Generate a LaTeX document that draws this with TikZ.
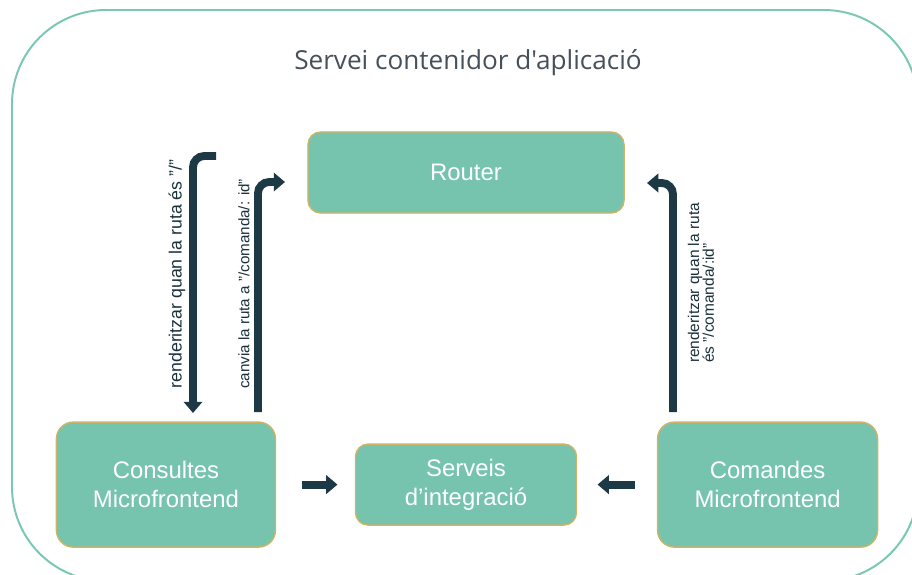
\documentclass[tikz,border=0pt]{standalone}
\usepackage{fontspec}
\setmainfont{Liberation Sans}
\newfontfamily\titlefont{Open Sans}
\usepackage{tikz}
\usetikzlibrary{arrows.meta, positioning}
\definecolor{boxcolor}{RGB}{118, 196, 174}
\definecolor{bordercolor}{RGB}{204, 180, 104}
\definecolor{framecolor}{RGB}{122, 200, 180}
\definecolor{arrowcolor}{RGB}{30, 57, 70}
\definecolor{titlecolor}{RGB}{70, 80, 90}
\tikzstyle{service} = [draw=bordercolor, rectangle, rounded corners=9pt, fill=boxcolor, text=white, align=center, font=\fontsize{17}{20.6}\selectfont, line width=1pt, inner sep=0pt, outer sep=0pt]
\tikzstyle{arrow} = [line width=5.6pt, color=arrowcolor, -{Triangle[length=8pt, width=13pt]}]
\tikzstyle{routelabel} = [rotate=90, align=left, inner sep=0pt, text=arrowcolor!85!black]

\begin{document}
\begin{tikzpicture}[x=0.025cm, y=-0.025cm]
\useasboundingbox (0,0) rectangle (912,574);
\clip (0,0) rectangle (912,574);

% Frame
\draw [framecolor, line width=1.4pt, rounded corners=2.35cm] (12,10) rectangle (918,581);
\node (title) [font=\titlefont\fontsize{18.6}{22}\selectfont, text=titlecolor] at (468,63) {Servei contenidor d'aplicació};

% Nodes
\node (router) [service, minimum width=7.9cm, minimum height=2.025cm] at (466,172.5) {Router};

\node (integ) [service, minimum width=5.525cm, minimum height=2.025cm, below=5.775cm of router] {Serveis\\d’integració};

\node (consultes) [service, rounded corners=12pt, minimum width=5.475cm, minimum height=3.125cm, left=2cm of integ] {Consultes\\Microfrontend};

\node (comandes) [service, rounded corners=12pt, minimum width=5.5cm, minimum height=3.125cm, right=2.025cm of integ] {Comandes\\Microfrontend};

% Route ends
\coordinate (rtop1) at (216,156);
\coordinate (cbot1) at (193,413);
\coordinate (cbot2) at (258,412);
\coordinate (rtop2) at (285,182);
\coordinate (mbot) at (673,412);
\coordinate (rtop3) at (647,183);

% Arrows
\draw [arrow, rounded corners=8pt] (rtop1) -| (cbot1);
\draw [arrow, rounded corners=8pt] (cbot2) |- (rtop2);
\draw [arrow, rounded corners=8pt] (mbot) |- (rtop3);

\draw [arrow, shorten <=0.675cm, shorten >=0.45cm] (consultes.east |- integ.center) -- (integ.west);
\draw [arrow, shorten <=0.575cm, shorten >=0.525cm] (comandes.west |- integ.center) -- (integ.east);

% Labels
\node (lbl1) [routelabel, font=\fontsize{12.6}{14}\selectfont] at (177,274) {renderitzar quan la ruta és "/"};
\node (lbl2) [routelabel, font=\fontsize{10.8}{13}\selectfont] at (244,284) {canvia la ruta a "/comanda/: id"};
\node (lbl3) [routelabel, font=\fontsize{11}{10.6}\selectfont] at (701,283) {renderitzar quan la ruta\\és "/comanda/:id"};

\end{tikzpicture}
\end{document}
